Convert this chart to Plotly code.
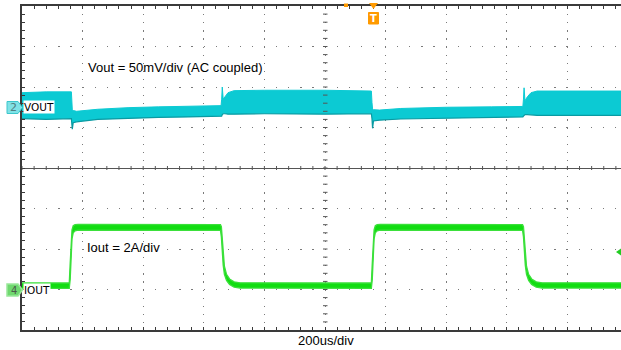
import plotly.graph_objects as go

# ---------------- data ----------------
# time in microseconds (200 us/div)
T_VOUT = [0, 80, 163, 164, 166, 169, 180, 250, 350, 450, 550, 657, 659, 661, 664, 670, 680, 700,
          800, 1000, 1153, 1155, 1157, 1160, 1180, 1250, 1400, 1550, 1653, 1655, 1657, 1660, 1668,
          1680, 1700, 1977]
# Vout ripple envelope, mV (AC coupled, 50 mV/div)
VOUT_HI = [18, 19, 19, 5, -3, -4, -5, -2.5, -0.5, 0.5, 1.5, 2, 10, 25, 10, 13, 18, 20.5,
           21, 21, 20, 6, -2, -3, -3.5, -1.5, 0, 0.5, 1, 10, 24, 8, 13,
           18, 20, 20]
VOUT_LO = [-14, -15, -14, -20, -27, -19, -18, -15, -13.5, -12.5, -12, -11.5, -11, -9, -8, -8, -8.5, -8.5,
           -8, -8.5, -8, -14, -26, -17, -16, -14.5, -13.5, -12.5, -12, -11, -10, -9, -9,
           -9.5, -10, -10]

T_IOUT = [0, 156, 159, 162, 165, 169, 175, 185, 400,
          655, 658, 661, 664, 668, 675, 685, 700, 720,
          1000, 1153, 1156, 1159, 1162, 1166, 1172, 1182, 1400,
          1652, 1655, 1658, 1661, 1665, 1672, 1682, 1697, 1717, 1977]
# Iout band, A (2 A/div)
IOUT_HI = [0.32, 0.32, 1.3, 2.4, 2.95, 3.15, 3.2, 3.22, 3.2,
           3.2, 3.1, 2.4, 1.7, 1.15, 0.75, 0.52, 0.38, 0.33,
           0.32, 0.32, 1.3, 2.4, 2.95, 3.15, 3.2, 3.22, 3.2,
           3.2, 3.1, 2.4, 1.7, 1.15, 0.75, 0.52, 0.38, 0.33, 0.33]
IOUT_LO = [0.06, 0.06, 0.5, 1.7, 2.5, 2.8, 2.9, 2.93, 2.93,
           2.92, 2.6, 1.8, 1.2, 0.75, 0.45, 0.25, 0.12, 0.07,
           0.06, 0.06, 0.5, 1.7, 2.5, 2.8, 2.9, 2.93, 2.93,
           2.92, 2.6, 1.8, 1.2, 0.75, 0.45, 0.25, 0.12, 0.07, 0.07]

VOUT_SCALE = 50    # mV/div
VOUT_POS = 1.5     # div
IOUT_SCALE = 2     # A/div
IOUT_POS = -3      # div
X_MAX = 2000 * (621 - 22) / 606

# ---------------- layout helpers (pixels -> paper) ----------------
W, H = 621, 350
L, R, T, B = 22, 0, 6, 20
PW, PH = W - L - R, H - T - B


def px(x):
    return (x - L) / PW


def py(y):
    return (H - B - y) / PH


CYAN = "#0CCAD3"
CYAN_DARK = "#0A9AA2"
GREEN = "#11DD11"
GREEN_EDGE = "#3BE03B"
GRID = "#7a7a7a"
FRAME = "#3a3a3a"
ORANGE = "#FF9A00"

fig = go.Figure()

# invisible trace on the main x/y (grid) subplot
fig.add_trace(go.Scatter(x=[0, X_MAX], y=[-4, 4], mode="lines", line=dict(width=0),
                         opacity=0, hoverinfo="skip"))
fig.add_trace(go.Scatter(x=T_VOUT, y=VOUT_LO, mode="lines", yaxis="y2",
                         line=dict(color=CYAN_DARK, width=1.2), hoverinfo="skip"))
fig.add_trace(go.Scatter(x=T_VOUT, y=VOUT_HI, mode="lines", yaxis="y2", fill="tonexty",
                         fillcolor=CYAN, line=dict(color=CYAN, width=1), hoverinfo="skip"))
fig.add_trace(go.Scatter(x=T_IOUT, y=IOUT_LO, mode="lines", yaxis="y3",
                         line=dict(color=GREEN_EDGE, width=1.3), hoverinfo="skip"))
fig.add_trace(go.Scatter(x=T_IOUT, y=IOUT_HI, mode="lines", yaxis="y3", fill="tonexty",
                         fillcolor=GREEN, line=dict(color=GREEN_EDGE, width=1.3), hoverinfo="skip"))

vout_range = [(-4 - VOUT_POS) * VOUT_SCALE, (4 - VOUT_POS) * VOUT_SCALE]
iout_range = [(-4 - IOUT_POS) * IOUT_SCALE, (4 - IOUT_POS) * IOUT_SCALE]

fig.update_layout(
    width=W, height=H, margin=dict(l=L, r=R, t=T, b=B, autoexpand=False),
    paper_bgcolor="white", plot_bgcolor="white", showlegend=False, hovermode=False,
    font=dict(family="Liberation Sans, Arial, sans-serif", size=13, color="black"),
    xaxis=dict(range=[0, X_MAX], dtick=200, tick0=0, showticklabels=False, automargin=False,
               showgrid=True, gridcolor=GRID, gridwidth=1.2, griddash="1.2px,6.9px",
               zeroline=False, showline=True, linecolor=FRAME, linewidth=1.5, mirror="ticks",
               ticks="inside", ticklen=3, tickcolor=FRAME,
               minor=dict(dtick=40, ticks="inside", ticklen=3, tickcolor=FRAME, showgrid=False)),
    yaxis=dict(range=[-4, 4], dtick=1, tick0=0, showticklabels=False, automargin=False,
               showgrid=True, gridcolor=GRID, gridwidth=1.2, griddash="1.2px,10.9px",
               zeroline=True, zerolinecolor="#555555", zerolinewidth=1,
               showline=True, linecolor=FRAME, linewidth=1.5, mirror=False,
               ticks="inside", ticklen=3, tickcolor=FRAME,
               minor=dict(dtick=0.2, ticks="inside", ticklen=3, tickcolor=FRAME, showgrid=False)),
    yaxis2=dict(range=vout_range, overlaying="y", visible=False),
    yaxis3=dict(range=iout_range, overlaying="y", visible=False),
)

shapes = []
# small tick marks on the centre cross (graticule decoration)
k = 0
while k * 40 <= X_MAX:
    shapes.append(dict(type="line", xref="x", yref="paper", x0=k * 40, x1=k * 40,
                       y0=py(170), y1=py(166), line=dict(color="#555555", width=1)))
    k += 1
for j in range(1, 40):
    shapes.append(dict(type="line", xref="paper", yref="paper", x0=px(323), x1=px(327.5),
                       y0=j / 40, y1=j / 40, line=dict(color="#555555", width=1)))
# channel 2 marker (cyan pentagon)
shapes.append(dict(type="path", xref="paper", yref="paper",
                   path=f"M{px(7)},{py(101.5)} L{px(18)},{py(101.5)} L{px(22.5)},{py(107.5)} "
                        f"L{px(18)},{py(113.5)} L{px(7)},{py(113.5)} Z",
                   fillcolor="#7FE2E6", line=dict(color="#3CC6CC", width=1)))
# channel 4 marker (green pentagon)
shapes.append(dict(type="path", xref="paper", yref="paper",
                   path=f"M{px(7)},{py(284)} L{px(18)},{py(284)} L{px(22.5)},{py(290)} "
                        f"L{px(18)},{py(296)} L{px(7)},{py(296)} Z",
                   fillcolor="#6FD86F", line=dict(color="#9BE89B", width=1.5)))
# trigger level arrow (right edge)
shapes.append(dict(type="path", xref="paper", yref="paper",
                   path=f"M{px(616)},{py(252)} L{px(621)},{py(248.5)} L{px(621)},{py(255.5)} Z",
                   fillcolor="#22CC22", line=dict(width=0)))
# trigger position marker (top)
shapes.append(dict(type="path", xref="paper", yref="paper",
                   path=f"M{px(369)},{py(3)} L{px(378)},{py(3)} L{px(373.5)},{py(9)} Z",
                   fillcolor=ORANGE, line=dict(width=0)))
shapes.append(dict(type="rect", xref="paper", yref="paper",
                   x0=px(368.5), x1=px(378.5), y0=py(24), y1=py(12.5),
                   fillcolor=ORANGE, line=dict(color=ORANGE, width=1)))
shapes.append(dict(type="rect", xref="paper", yref="paper",
                   x0=px(344), x1=px(348), y0=py(7), y1=py(3.5),
                   fillcolor=ORANGE, line=dict(width=0)))
fig.update_layout(shapes=shapes)

ann = []
ann.append(dict(x=211, y=2.47, xref="x", yref="y", text="Vout = 50mV/div (AC coupled)",
                showarrow=False, xanchor="left", yanchor="middle", font=dict(size=13)))
ann.append(dict(x=208, y=-1.975, xref="x", yref="y", text="Iout = 2A/div",
                showarrow=False, xanchor="left", yanchor="middle", font=dict(size=13)))
ann.append(dict(x=px(326), y=py(340), xref="paper", yref="paper", text="200us/div",
                showarrow=False, xanchor="center", yanchor="middle", font=dict(size=13)))
ann.append(dict(x=px(23), y=py(107.5), xref="paper", yref="paper", text="VOUT",
                showarrow=False, xanchor="left", yanchor="middle", bgcolor="white", borderpad=0,
                font=dict(family="DejaVu Sans, sans-serif", size=10.5, color="black")))
ann.append(dict(x=px(23), y=py(290), xref="paper", yref="paper", text="IOUT",
                showarrow=False, xanchor="left", yanchor="middle", bgcolor="white", borderpad=0,
                font=dict(family="DejaVu Sans, sans-serif", size=10.5, color="black")))
ann.append(dict(x=px(13.5), y=py(107.5), xref="paper", yref="paper", text="2",
                showarrow=False, xanchor="center", yanchor="middle",
                font=dict(family="DejaVu Sans, sans-serif", size=11, color="#4F7F82")))
ann.append(dict(x=px(13.5), y=py(290), xref="paper", yref="paper", text="4",
                showarrow=False, xanchor="center", yanchor="middle",
                font=dict(family="DejaVu Sans, sans-serif", size=10, color="#4A5A4A")))
ann.append(dict(x=px(373.5), y=py(18.5), xref="paper", yref="paper", text="<b>T</b>",
                showarrow=False, xanchor="center", yanchor="middle",
                font=dict(family="DejaVu Sans, sans-serif", size=10, color="white")))
fig.update_layout(annotations=ann)

fig.write_html("out.html", config={"displayModeBar": False},
               post_script="document.body.style.margin='0';document.body.style.padding='0';")
